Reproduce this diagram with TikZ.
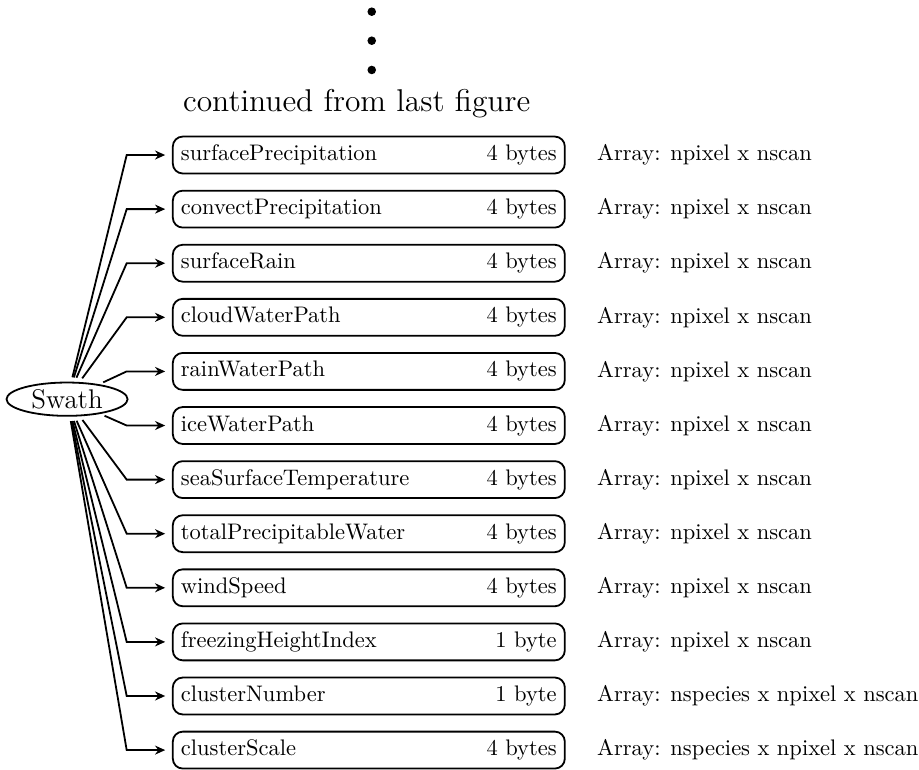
\documentclass[tikz,border=0pt]{standalone}
\usepackage{tikz}
\usetikzlibrary{arrows.meta, positioning, shapes.geometric}

\begin{document}
\begin{tikzpicture}[x=1pt, y=1pt,
    field/.style={draw, thick, rounded corners=4.4pt, anchor=west, minimum height=16.4pt, text width=167pt, inner xsep=3.6pt, align=left},
    conn/.style={-{Stealth[length=4.5pt, width=4pt]}, thick, shorten <=2pt, shorten >=3pt}]
    \useasboundingbox (0,0) rectangle (408.4,341.8);
    \fill (165.2,336.6) circle (1.9pt);
    \fill (165.2,323.7) circle (1.9pt);
    \fill (165.2,310.7) circle (1.9pt);
    \node[anchor=base, font=\fontsize{14}{17}\selectfont] (cont) at (158.5,292.1) {continued from last figure};
    \node[draw, thick, ellipse, minimum width=53.8pt, minimum height=14.8pt, inner sep=0pt, font=\large] (swath) at (29.8,164.4) {Swath};
    \foreach \name/\size/\dims [count=\i from 0] in {
        surfacePrecipitation/4 bytes/npixel x nscan,
        convectPrecipitation/4 bytes/npixel x nscan,
        surfaceRain/4 bytes/npixel x nscan,
        cloudWaterPath/4 bytes/npixel x nscan,
        rainWaterPath/4 bytes/npixel x nscan,
        iceWaterPath/4 bytes/npixel x nscan,
        seaSurfaceTemperature/4 bytes/npixel x nscan,
        totalPrecipitableWater/4 bytes/npixel x nscan,
        windSpeed/4 bytes/npixel x nscan,
        freezingHeightIndex/1 byte/npixel x nscan,
        clusterNumber/1 byte/nspecies x npixel x nscan,
        clusterScale/4 bytes/nspecies x npixel x nscan}{
        \node[field] (f\i) at (76.4, 272.9-24.04*\i) {\name\hfill\size\hspace{1.3pt}};
        \node[anchor=west, inner xsep=0pt] (a\i) at (265.2, 272.9-24.04*\i) {Array: \dims};
        \coordinate (j\i) at (56.3, 272.9-24.04*\i);
        \draw[conn] (swath) -- (j\i) -- (f\i);
    }
\end{tikzpicture}
\end{document}
